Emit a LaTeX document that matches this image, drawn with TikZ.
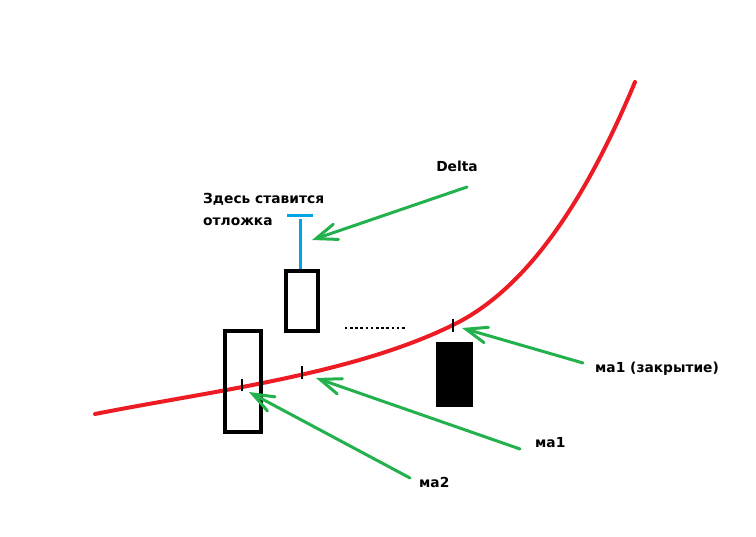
\documentclass[tikz,border=0pt]{standalone}
\usepackage{fontspec}
\setmainfont{DejaVu Sans}
\usetikzlibrary{arrows.meta}
\definecolor{pred}{RGB}{237,28,36}
\definecolor{pgreen}{RGB}{34,177,76}
\definecolor{pblue}{RGB}{0,162,232}
\tikzset{
  lbl/.style={font=\bfseries\fontsize{13.8}{16}\selectfont, inner sep=0pt},
  candle/.style={draw=black, line width=4pt},
  tick/.style={draw=black, line width=2.5pt},
  ptr/.style={draw=pgreen, line width=3pt, line cap=round,
    -{Straight Barb[length=21pt,width=16pt,line cap=round]}},
}
\begin{document}
\begin{tikzpicture}[x=1pt,y=-1pt]
\useasboundingbox (0,0) rectangle (756,537);
% curve
\draw[pred, line width=4pt, line cap=round]
  (95,414) .. controls (215,390.4) and (355,374) .. (455,324)
  .. controls (535,284) and (592.6,183.5) .. (635,82);
% candles
\node[candle, minimum width=36pt, minimum height=101pt, inner sep=0pt] (c1) at (243,381.5) {};
\node[candle, minimum width=32pt, minimum height=60pt, inner sep=0pt] (c2) at (302,301) {};
\node[fill=black, minimum width=37pt, minimum height=65pt, inner sep=0pt] (c3) at (454.5,374.5) {};
% ticks
\draw[tick] (242,379) -- (242,391);
\draw[tick] (302,366) -- (302,379);
\draw[tick] (453,319) -- (453,332);
% dots
\foreach \i in {0,...,11} \fill (346+\i*5.2-1.2,326.8) rectangle ++(2.6,2.6);
% blue
\coordinate (btop) at (300,219);
\draw[pblue, line width=3pt] (287,216) -- (313,216);
\draw[pblue, line width=3pt] (btop) -- (btop |- c2.north);
% labels
\node[lbl] (delta) at (457,166) {Delta};
\node[lbl, anchor=base west] (zd1) at (203,204) {Здесь ставится};
\node[lbl, anchor=base west] (zd2) at (203,226) {отложка};
\node[lbl, anchor=west] (mcl) at (595,369) {ма1 (закрытие)};
\node[lbl, anchor=west] (m1) at (535,443) {ма1};
\node[lbl, anchor=west] (m2) at (419,482) {ма2};
% arrows
\coordinate (t0) at (467,187); \coordinate (h0) at (312,240);
\coordinate (t1) at (583,363); \coordinate (h1) at (462,328);
\coordinate (t2) at (520,449); \coordinate (h2) at (316,378);
\coordinate (t3) at (410,478); \coordinate (h3) at (249,392);
\draw[ptr] (t0) -- (h0);
\draw[ptr] (t1) -- (h1);
\draw[ptr] (t2) -- (h2);
\draw[ptr] (t3) -- (h3);
\end{tikzpicture}
\end{document}
